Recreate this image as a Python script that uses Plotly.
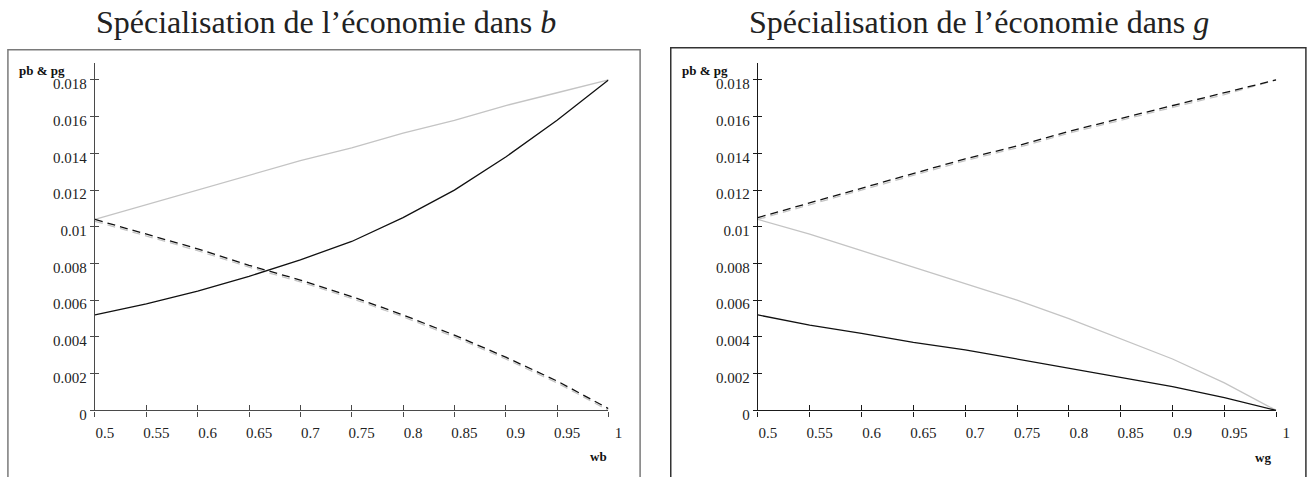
import plotly.graph_objects as go

W, H = 1311, 477

# shared abscissa (wb on the left panel, wg on the right panel)
w_vals = [0.5, 0.55, 0.6, 0.65, 0.7, 0.75, 0.8, 0.85, 0.9, 0.95, 1.0]

# Left panel: specialisation in b
b_solid_black = [0.0052, 0.0058, 0.0065, 0.0073, 0.0082, 0.0092, 0.0105, 0.0120, 0.0138, 0.0158, 0.0180]
b_solid_gray = [0.0104, 0.0112, 0.0120, 0.0128, 0.0136, 0.0143, 0.0151, 0.0158, 0.0166, 0.0173, 0.0180]
b_dash_black = [0.0104, 0.0096, 0.0088, 0.0079, 0.0071, 0.0062, 0.0052, 0.0041, 0.0029, 0.0016, 0.0001]
b_dash_gray = [0.0103, 0.0095, 0.0087, 0.0078, 0.0070, 0.0061, 0.0051, 0.0040, 0.0028, 0.0015, 0.0000]

# Right panel: specialisation in g
g_solid_black = [0.0052, 0.00465, 0.0042, 0.0037, 0.0033, 0.0028, 0.0023, 0.0018, 0.0013, 0.0007, 0.0000]
g_solid_gray = [0.0104, 0.0096, 0.0087, 0.0078, 0.0069, 0.0060, 0.0050, 0.0039, 0.0028, 0.0015, 0.0000]
g_dash_black = [0.0105, 0.0113, 0.0121, 0.0129, 0.0137, 0.0144, 0.0152, 0.0159, 0.0166, 0.0173, 0.0180]
g_dash_gray = [0.0104, 0.0112, 0.0120, 0.0128, 0.0136, 0.0143, 0.0151, 0.0158, 0.0165, 0.0172, 0.0180]

x_ticks = [0.5, 0.55, 0.6, 0.65, 0.7, 0.75, 0.8, 0.85, 0.9, 0.95, 1.0]
x_labels = ["0.5", "0.55", "0.6", "0.65", "0.7", "0.75", "0.8", "0.85", "0.9", "0.95", "1"]
y_ticks = [0, 0.002, 0.004, 0.006, 0.008, 0.01, 0.012, 0.014, 0.016, 0.018]
y_labels = ["0", "0.002", "0.004", "0.006", "0.008", "0.01", "0.012", "0.014", "0.016", "0.018"]

titles = ["Spécialisation de l’économie dans <i>b</i>", "Spécialisation de l’économie dans <i>g</i>"]
y_title = "pb & pg"
x_titles = ["wb", "wg"]

GRAY = "#c4c4c4"
BLACK = "#111111"
SERIF = "Liberation Serif"


def px_x(p):
    return p / W


def px_y(p):
    return 1 - p / H


fig = go.Figure()


def line(x, y, color, dash, xa, ya):
    fig.add_trace(go.Scatter(
        x=x, y=y, mode="lines", xaxis=xa, yaxis=ya, showlegend=False,
        line=dict(color=color, width=1.3, dash=dash), hoverinfo="skip",
    ))


# draw order: gray below black
line(w_vals, b_solid_gray, GRAY, "solid", "x", "y")
line(w_vals, b_dash_gray, GRAY, "8px,5px", "x", "y")
line(w_vals, b_solid_black, BLACK, "solid", "x", "y")
line(w_vals, b_dash_black, BLACK, "8px,5px", "x", "y")

line(w_vals, g_solid_gray, GRAY, "solid", "x2", "y2")
line(w_vals, g_dash_gray, GRAY, "8px,5px", "x2", "y2")
line(w_vals, g_solid_black, BLACK, "solid", "x2", "y2")
line(w_vals, g_dash_black, BLACK, "8px,5px", "x2", "y2")

# empty traces so the overlay axes (inner half of the crossing ticks) get drawn
for xa, ya in (("x3", "y3"), ("x4", "y4")):
    fig.add_trace(go.Scatter(x=[None], y=[None], xaxis=xa, yaxis=ya,
                             showlegend=False, hoverinfo="skip"))

X_RANGE = [0.5, 1.0]
Y_RANGE = [0, 0.0189]
ydom = [px_y(421), px_y(65)]
xdoms = [[px_x(96), px_x(615)], [px_x(766), px_x(1290)]]
axis_colors = ["#4a4a4a", "#1a1a1a"]
tickfont = dict(family=SERIF, size=15, color="#222")

layout_axes = {}
for i, (xd, ac) in enumerate(zip(xdoms, axis_colors)):
    n = i + 1
    xs = "" if n == 1 else str(n)
    ys = "" if n == 1 else str(n)
    ov = str(n + 2)
    layout_axes["xaxis" + xs] = dict(
        domain=xd, range=X_RANGE, anchor="y" + ys, showgrid=False, zeroline=False,
        showline=True, linecolor=ac, linewidth=1.3, ticks="outside", ticklen=5,
        tickwidth=1.2, tickcolor=ac, tickmode="array", tickvals=x_ticks,
        ticktext=x_labels, tickfont=tickfont, ticklabelshift=10, ticklabelstandoff=3,
    )
    layout_axes["yaxis" + ys] = dict(
        domain=ydom, range=Y_RANGE, anchor="x" + xs, showgrid=False, zeroline=False,
        showline=True, linecolor=ac, linewidth=1.3, ticks="outside", ticklen=4,
        tickwidth=1.2, tickcolor=ac, tickmode="array", tickvals=y_ticks,
        ticktext=y_labels, tickfont=tickfont, ticklabelshift=4, ticklabelstandoff=0,
    )
    layout_axes["xaxis" + ov] = dict(
        domain=xd, range=X_RANGE, overlaying="x" + xs, anchor="y" + ov, showgrid=False,
        zeroline=False, showline=False, ticks="inside", ticklen=5, tickwidth=1.2,
        tickcolor=ac, tickmode="array", tickvals=x_ticks, showticklabels=False,
    )
    layout_axes["yaxis" + ov] = dict(
        domain=ydom, range=Y_RANGE, overlaying="y" + ys, anchor="x" + ov, showgrid=False,
        zeroline=False, showline=False, ticks="inside", ticklen=4, tickwidth=1.2,
        tickcolor=ac, tickmode="array", tickvals=y_ticks, showticklabels=False,
    )

annotations = []
title_x = [330, 990]
for tx, t in zip(title_x, titles):
    annotations.append(dict(
        text=t, x=px_x(tx), y=px_y(23), xref="paper", yref="paper",
        xanchor="center", yanchor="middle", showarrow=False,
        font=dict(family=SERIF, size=32, color="#222"),
    ))
for lx in (17, 687):
    annotations.append(dict(
        text="<b>" + y_title + "</b>", x=px_x(lx), y=px_y(72), xref="paper", yref="paper",
        xanchor="left", yanchor="middle", showarrow=False,
        font=dict(family=SERIF, size=13, color="#111"),
    ))
for lx, ly, t in zip((605, 1277), (468, 469), x_titles):
    annotations.append(dict(
        text="<b>" + t + "</b>", x=px_x(lx), y=px_y(ly), xref="paper", yref="paper",
        xanchor="center", yanchor="middle", showarrow=False,
        font=dict(family=SERIF, size=13, color="#111"),
    ))

# panel frames
shapes = [
    dict(type="rect", xref="paper", yref="paper", x0=px_x(8), x1=px_x(647),
         y0=px_y(490), y1=px_y(51), line=dict(color="#7a7a7a", width=1.5)),
    dict(type="rect", xref="paper", yref="paper", x0=px_x(678), x1=px_x(1320),
         y0=px_y(490), y1=px_y(49), line=dict(color="#333333", width=1.5)),
]

fig.update_layout(
    width=W, height=H, margin=dict(l=0, r=0, t=0, b=0),
    paper_bgcolor="white", plot_bgcolor="white",
    annotations=annotations, shapes=shapes, **layout_axes,
)

fig.write_html("out.html")
